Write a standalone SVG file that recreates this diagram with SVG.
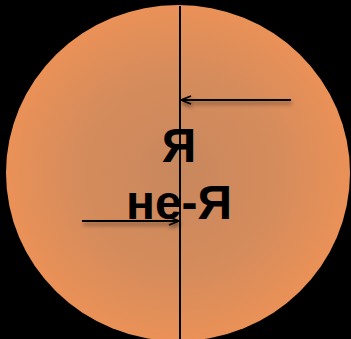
<svg xmlns="http://www.w3.org/2000/svg" width="351" height="339" viewBox="0 0 351 339">
<defs>
<radialGradient id="g" cx="50%" cy="50%" r="50%">
<stop offset="0" stop-color="#c8875d"/>
<stop offset="0.6" stop-color="#d68c5c"/>
<stop offset="1" stop-color="#ea9157"/>
</radialGradient>
<filter id="sh" filterUnits="userSpaceOnUse" x="0" y="0" width="351" height="339">
<feGaussianBlur in="SourceAlpha" stdDeviation="2"/>
<feOffset dx="1" dy="3" result="b"/>
<feComponentTransfer><feFuncA type="linear" slope="0.5"/></feComponentTransfer>
<feMerge><feMergeNode/><feMergeNode in="SourceGraphic"/></feMerge>
</filter>
<marker id="ah" markerWidth="12" markerHeight="10" refX="11" refY="5" orient="auto" markerUnits="userSpaceOnUse">
<path d="M1,1 L11,5 L1,9" fill="none" stroke="#000" stroke-width="1.6"/>
</marker>
<style>
.t{font-family:"Comic Sans MS","Liberation Sans",sans-serif;font-weight:bold;font-size:48px;fill:#000;text-anchor:middle}
.c{stroke:#000;stroke-width:2;fill:none}
</style>
</defs>
<rect width="351" height="339" fill="#000"/>
<g id="circle">
<ellipse cx="178" cy="173" rx="172" ry="168" fill="url(#g)"/>
</g>
<g id="labels">
<text class="t" x="179" y="162">Я</text>
<text class="t" x="179" y="219">не-Я</text>
</g>
<g id="connectors">
<line class="c" x1="180" y1="6" x2="180" y2="339" stroke-width="1.6"/>
<g filter="url(#sh)">
<line class="c" x1="291" y1="100" x2="181" y2="100" marker-end="url(#ah)"/>
<line class="c" x1="82" y1="221" x2="179" y2="221" marker-end="url(#ah)"/>
</g>
</g>
</svg>
